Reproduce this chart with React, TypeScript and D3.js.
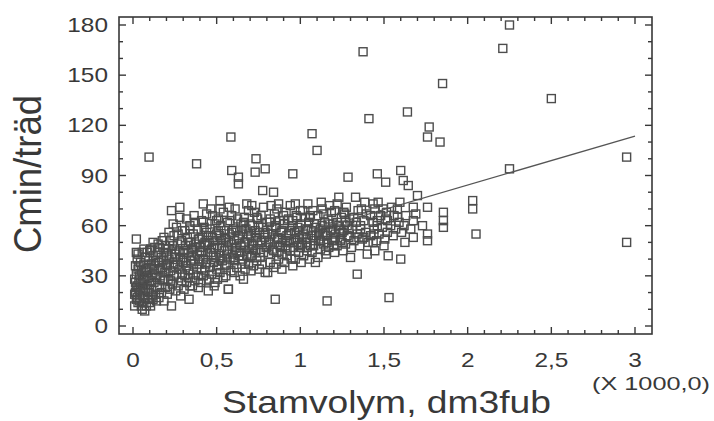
import React from "react";
import * as d3 from "d3";

// tick values and their labels (comma decimals as in the original)
const xTickValues = [0, 0.5, 1, 1.5, 2, 2.5, 3];
const xTickLabels = ["0", "0,5", "1", "1,5", "2", "2,5", "3"];
const yTickValues = [0, 30, 60, 90, 120, 150, 180];

// [stamvolym (x 1000 dm3fub), Cmin/träd]
const klusterNara: [number, number][] = [
  [0.01, 12], [0.02, 16], [0.015, 20], [0.03, 14], [0.025, 24], [0.01, 28], [0.04, 18], [0.035, 22],
  [0.02, 31], [0.045, 26], [0.03, 34], [0.015, 36], [0.04, 30], [0.05, 12], [0.025, 40], [0.045, 38],
  [0.01, 19], [0.035, 27], [0.02, 23], [0.04, 15], [0.03, 43], [0.05, 33], [0.015, 26], [0.045, 21],
  [0.025, 17], [0.035, 36], [0.02, 52], [0.02, 44],
  [0.055, 10], [0.07, 9], [0.065, 14], [0.08, 12], [0.06, 18], [0.09, 16], [0.075, 21], [0.055, 25],
  [0.085, 24], [0.07, 28], [0.095, 20], [0.06, 32], [0.08, 30], [0.09, 35], [0.065, 37], [0.1, 27],
  [0.075, 41], [0.095, 39], [0.055, 44], [0.085, 44], [0.07, 17], [0.09, 29], [0.06, 22], [0.08, 34],
  [0.1, 14], [0.065, 46], [0.1, 45], [0.075, 33],
  [0.105, 12], [0.12, 16], [0.135, 19], [0.11, 22], [0.145, 23], [0.125, 26], [0.14, 29], [0.115, 31],
  [0.13, 34], [0.15, 33], [0.11, 37], [0.135, 39], [0.12, 42], [0.145, 44], [0.105, 46], [0.13, 47],
  [0.12, 50], [0.15, 49], [0.14, 15], [0.11, 27], [0.125, 36], [0.15, 38], [0.135, 30], [0.115, 18],
  [0.155, 17], [0.17, 20], [0.185, 15], [0.16, 24], [0.18, 27], [0.195, 23], [0.165, 30], [0.19, 32],
  [0.175, 35], [0.155, 38], [0.2, 37], [0.17, 41], [0.185, 44], [0.16, 47], [0.195, 48], [0.175, 51],
  [0.19, 28], [0.165, 34], [0.2, 42], [0.18, 39], [0.155, 44], [0.185, 53],
  [0.205, 19], [0.22, 22], [0.235, 25], [0.21, 28], [0.245, 30], [0.225, 33], [0.205, 36], [0.24, 37],
  [0.215, 40], [0.23, 43], [0.25, 41], [0.21, 46], [0.235, 48], [0.22, 51], [0.245, 54], [0.215, 56],
  [0.23, 12], [0.24, 61], [0.23, 69], [0.245, 35], [0.225, 27], [0.25, 46],
  [0.255, 21], [0.27, 24], [0.29, 27], [0.26, 31], [0.28, 34], [0.295, 31], [0.265, 37], [0.285, 40],
  [0.255, 43], [0.275, 45], [0.3, 44], [0.265, 49], [0.29, 51], [0.27, 55], [0.295, 57], [0.28, 65],
  [0.28, 71], [0.26, 59], [0.285, 18], [0.3, 38],
];

const klusterMitt: [number, number][] = [
  [0.305, 22], [0.32, 26], [0.34, 24], [0.31, 30], [0.335, 33], [0.32, 36], [0.345, 39], [0.305, 41],
  [0.33, 44], [0.315, 48], [0.345, 50], [0.325, 53], [0.31, 57], [0.34, 60], [0.335, 16], [0.33, 29],
  [0.35, 46], [0.32, 64],
  [0.355, 24], [0.37, 27], [0.39, 23], [0.36, 31], [0.38, 34], [0.395, 37], [0.365, 40], [0.385, 43],
  [0.355, 46], [0.375, 49], [0.395, 52], [0.36, 55], [0.385, 58], [0.37, 62], [0.39, 30], [0.4, 45],
  [0.365, 66],
  [0.405, 26], [0.42, 30], [0.44, 27], [0.41, 34], [0.435, 37], [0.42, 40], [0.445, 44], [0.405, 47],
  [0.43, 50], [0.415, 53], [0.44, 56], [0.425, 59], [0.41, 63], [0.44, 67], [0.42, 73], [0.45, 21],
  [0.43, 33], [0.445, 48],
  [0.455, 28], [0.47, 31], [0.49, 26], [0.46, 35], [0.48, 38], [0.495, 41], [0.465, 44], [0.485, 47],
  [0.455, 50], [0.475, 53], [0.5, 55], [0.46, 58], [0.49, 61], [0.475, 66], [0.5, 34], [0.485, 24],
  [0.465, 70],
  [0.505, 28], [0.52, 32], [0.54, 29], [0.51, 36], [0.535, 39], [0.52, 42], [0.545, 45], [0.505, 48],
  [0.53, 51], [0.515, 54], [0.545, 57], [0.525, 60], [0.51, 64], [0.54, 68], [0.52, 75], [0.52, 70],
  [0.55, 36],
  [0.555, 30], [0.57, 22], [0.585, 33], [0.56, 37], [0.58, 40], [0.595, 43], [0.565, 46], [0.59, 49],
  [0.555, 52], [0.575, 55], [0.6, 58], [0.565, 62], [0.59, 66], [0.575, 71],
  [0.605, 32], [0.62, 35], [0.64, 30], [0.61, 39], [0.635, 42], [0.62, 45], [0.645, 48], [0.605, 51],
  [0.63, 54], [0.615, 57], [0.645, 61], [0.625, 64], [0.61, 70], [0.65, 37],
  [0.66, 28], [0.67, 34], [0.69, 37], [0.655, 40], [0.68, 43], [0.695, 46], [0.665, 49], [0.685, 52],
  [0.655, 55], [0.675, 58], [0.7, 61], [0.665, 65], [0.69, 69], [0.68, 73], [0.7, 41],
  [0.705, 33], [0.72, 36], [0.74, 39], [0.71, 42], [0.735, 45], [0.72, 48], [0.745, 51], [0.705, 54],
  [0.73, 57], [0.715, 60], [0.745, 64], [0.725, 68], [0.71, 72],
  [0.755, 34], [0.77, 37], [0.79, 32], [0.76, 41], [0.78, 44], [0.795, 47], [0.765, 50], [0.785, 53],
  [0.755, 56], [0.775, 59], [0.8, 62], [0.765, 66], [0.78, 71],
  [0.805, 32], [0.82, 38], [0.84, 35], [0.81, 43], [0.835, 46], [0.82, 49], [0.845, 52], [0.805, 55],
  [0.83, 58], [0.815, 62], [0.845, 67], [0.825, 72],
  [0.855, 37], [0.87, 40], [0.89, 34], [0.86, 44], [0.88, 47], [0.895, 50], [0.865, 53], [0.885, 56],
  [0.855, 59], [0.875, 63], [0.9, 66], [0.86, 70], [0.89, 43], [0.87, 73],
  [0.905, 38], [0.92, 42], [0.94, 45], [0.91, 48], [0.935, 51], [0.92, 54], [0.945, 57], [0.905, 61],
  [0.93, 64], [0.915, 68], [0.945, 40], [0.94, 72],
  [0.955, 36], [0.97, 40], [0.99, 44], [0.96, 47], [0.98, 50], [0.995, 53], [0.965, 56], [0.985, 59],
  [0.955, 63], [0.975, 66], [1.0, 69], [0.97, 73], [0.99, 48],
];

// the darkest part of the band, drawn on top of the columns above
const klusterKarna: [number, number][] = [
  [0.31, 45], [0.33, 50], [0.35, 42], [0.37, 47], [0.39, 52], [0.41, 44], [0.43, 49], [0.45, 54],
  [0.47, 46], [0.49, 51], [0.51, 57], [0.53, 47], [0.55, 53], [0.57, 50], [0.59, 56], [0.61, 47],
  [0.63, 52], [0.65, 58], [0.67, 50], [0.69, 55], [0.71, 49], [0.73, 53], [0.75, 59], [0.77, 51],
  [0.79, 56], [0.81, 50], [0.83, 55], [0.85, 60], [0.87, 52], [0.89, 57], [0.91, 51], [0.93, 55],
  [0.95, 60], [0.97, 52], [0.99, 57], [1.01, 53], [1.03, 58], [1.05, 62], [1.07, 54], [1.09, 59],
  [1.11, 55], [1.13, 60], [1.15, 56], [1.17, 61], [1.19, 58], [1.21, 53], [1.23, 60], [1.25, 56],
  [1.27, 62], [1.29, 58],
  [0.32, 39], [0.36, 37], [0.4, 40], [0.44, 38], [0.48, 42], [0.52, 40], [0.56, 43], [0.6, 41],
  [0.64, 44], [0.68, 42], [0.72, 46], [0.76, 44], [0.8, 47], [0.84, 45], [0.88, 48], [0.92, 46],
  [0.96, 50], [1.0, 47], [1.04, 50], [1.08, 48], [1.12, 51], [1.16, 50], [1.2, 52], [1.24, 51],
  [1.28, 54],
  [0.34, 58], [0.42, 62], [0.5, 63], [0.58, 63], [0.66, 62], [0.74, 65], [0.82, 64], [0.9, 63],
  [0.98, 65], [1.06, 66], [1.14, 67], [1.26, 68], [1.36, 58], [1.46, 60], [1.52, 63], [1.58, 65],
  [1.44, 55], [1.38, 53],
];

const klusterHoger: [number, number][] = [
  [1.005, 38], [1.02, 42], [1.04, 45], [1.01, 49], [1.035, 52], [1.02, 55], [1.045, 58], [1.005, 61],
  [1.03, 65], [1.015, 69], [1.045, 73], [1.04, 47],
  [1.055, 40], [1.07, 44], [1.09, 38], [1.06, 48], [1.08, 51], [1.095, 54], [1.065, 57], [1.085, 61],
  [1.055, 65], [1.075, 69],
  [1.105, 41], [1.12, 46], [1.14, 49], [1.11, 52], [1.135, 55], [1.12, 58], [1.145, 62], [1.105, 66],
  [1.13, 70], [1.15, 45], [1.125, 74],
  [1.155, 43], [1.17, 47], [1.19, 51], [1.16, 54], [1.18, 57], [1.195, 61], [1.165, 64], [1.185, 68],
  [1.2, 48], [1.175, 72],
  [1.205, 44], [1.22, 48], [1.24, 52], [1.21, 55], [1.235, 58], [1.22, 62], [1.245, 65], [1.205, 69],
  [1.22, 73], [1.25, 50], [1.23, 77],
  [1.255, 45], [1.27, 49], [1.29, 53], [1.26, 57], [1.28, 60], [1.295, 64], [1.265, 67], [1.3, 41],
  [1.275, 71],
  [1.305, 47], [1.32, 51], [1.34, 55], [1.31, 58], [1.335, 62], [1.32, 65], [1.345, 69], [1.33, 77],
  [1.34, 31], [1.35, 53],
  [1.355, 48], [1.37, 52], [1.39, 56], [1.36, 60], [1.38, 63], [1.395, 67], [1.365, 70], [1.4, 43],
  [1.385, 74],
  [1.405, 50], [1.42, 54], [1.44, 58], [1.435, 62], [1.42, 66], [1.445, 70], [1.435, 73], [1.435, 50],
  [1.445, 45],
  [1.455, 51], [1.47, 55], [1.49, 59], [1.46, 63], [1.48, 66], [1.495, 70], [1.465, 74], [1.5, 48],
  [1.505, 52], [1.52, 56], [1.54, 60], [1.51, 64], [1.525, 42], [1.515, 68], [1.545, 71],
  [1.555, 54], [1.57, 58], [1.59, 62], [1.56, 66], [1.58, 70], [1.6, 40], [1.595, 74],
  [1.605, 56], [1.62, 60], [1.63, 66], [1.625, 50],
  [1.675, 71], [1.675, 63], [1.675, 53], [1.66, 58], [1.7, 78], [1.69, 67],
  [1.76, 71], [1.76, 55], [1.76, 51], [1.73, 60], [1.855, 68], [1.855, 63], [1.855, 59],
];

const utliggare: [number, number][] = [
  [0.096, 101], [0.38, 97], [0.585, 113], [0.59, 93], [0.63, 85], [0.63, 89], [0.735, 100], [0.73, 92],
  [0.79, 94], [0.775, 81], [0.84, 80], [0.955, 91], [1.07, 115], [1.1, 105], [1.285, 89], [1.375, 164],
  [1.41, 124], [1.46, 91], [1.51, 86], [1.6, 93], [1.615, 87], [1.645, 84], [1.64, 128], [1.77, 119],
  [1.76, 113], [1.835, 110], [1.85, 145], [2.03, 75], [2.03, 70], [2.05, 55], [2.21, 166], [2.25, 180],
  [2.25, 94], [2.5, 136], [2.95, 101], [2.95, 50],
  [0.85, 16], [1.16, 15], [1.53, 17], [0.57, 22],
];

// fitted line, end points
const linjeX = [0.01, 3.0];
const linjeY = [26, 113.6];

const ink = "#383838";
const font = "'Liberation Sans', Arial, sans-serif";

export default function App() {
  const x = d3.scaleLinear().domain([0, 3]).range([133, 635]);
  const y = d3.scaleLinear().domain([0, 180]).range([326, 25]);
  const left = 119, right = 652, top = 17, bottom = 334;

  const xMinor = d3.range(0, 31).map((d) => d / 10).filter((d) => d % 0.5 !== 0);
  const yMinor = d3.range(10, 180, 10).filter((d) => d % 30 !== 0);

  const points = [...klusterNara, ...klusterMitt, ...klusterKarna, ...klusterHoger, ...utliggare];
  const s = 8;

  const line = d3
    .line<number>()
    .x((d) => x(d))
    .y((d, i) => y(linjeY[i]));

  return (
    <svg
      width={714}
      height={421}
      style={{ position: "absolute", left: 0, top: 0, background: "#fff" }}
    >
      <defs>
        <filter id="scan" x="-5%" y="-5%" width="110%" height="110%">
          <feGaussianBlur stdDeviation={0.45} />
        </filter>
      </defs>
      <g fill="none" stroke="#2e2e2e" strokeWidth={1.4} opacity={0.85} filter="url(#scan)">
        {points.map((p, i) => (
          <rect key={i} x={x(p[0]) - s / 2} y={y(p[1]) - s / 2} width={s} height={s} />
        ))}
      </g>
      <path d={line(linjeX) || ""} fill="none" stroke="#555" strokeWidth={1.3} />

      <rect x={left} y={top} width={right - left} height={bottom - top} fill="none" stroke={ink} strokeWidth={1.6} />
      <g stroke={ink} strokeWidth={1.4}>
        {xTickValues.map((v) => (
          <g key={"xm" + v}>
            <line x1={x(v)} x2={x(v)} y1={bottom} y2={bottom - 7} />
            <line x1={x(v)} x2={x(v)} y1={top} y2={top + 7} />
          </g>
        ))}
        {xMinor.map((v) => (
          <g key={"xn" + v}>
            <line x1={x(v)} x2={x(v)} y1={bottom} y2={bottom - 4} />
            <line x1={x(v)} x2={x(v)} y1={top} y2={top + 4} />
          </g>
        ))}
        {yTickValues.map((v) => (
          <g key={"ym" + v}>
            <line x1={left} x2={left + 7} y1={y(v)} y2={y(v)} />
            <line x1={right} x2={right - 7} y1={y(v)} y2={y(v)} />
          </g>
        ))}
        {yMinor.map((v) => (
          <g key={"yn" + v}>
            <line x1={left} x2={left + 4} y1={y(v)} y2={y(v)} />
            <line x1={right} x2={right - 4} y1={y(v)} y2={y(v)} />
          </g>
        ))}
      </g>

      <g fill={ink} fontFamily={font} fontSize={20}>
        {yTickValues.map((v) => (
          <text key={"yl" + v} transform={`translate(108,${y(v) + 7}) scale(1.22,1)`} textAnchor="end">
            {v}
          </text>
        ))}
        {xTickValues.map((v, i) => (
          <text key={"xl" + v} transform={`translate(${x(v)},367) scale(1.22,1)`} textAnchor="middle">
            {xTickLabels[i]}
          </text>
        ))}
      </g>

      <text
        x={222}
        y={413}
        fontFamily={font}
        fontSize={32}
        fill={ink}
        textLength={329}
        lengthAdjust="spacingAndGlyphs"
      >
        Stamvolym, dm3fub
      </text>
      <text
        x={592}
        y={390}
        fontFamily={font}
        fontSize={18}
        fill={ink}
        textLength={118}
        lengthAdjust="spacingAndGlyphs"
      >
        (X 1000,0)
      </text>
      <text
        transform="translate(41,174) scale(1.2,1) rotate(-90)"
        textAnchor="middle"
        fontFamily={font}
        fontSize={32}
        fill={ink}
        textLength={158}
        lengthAdjust="spacingAndGlyphs"
      >
        Cmin/träd
      </text>
    </svg>
  );
}
